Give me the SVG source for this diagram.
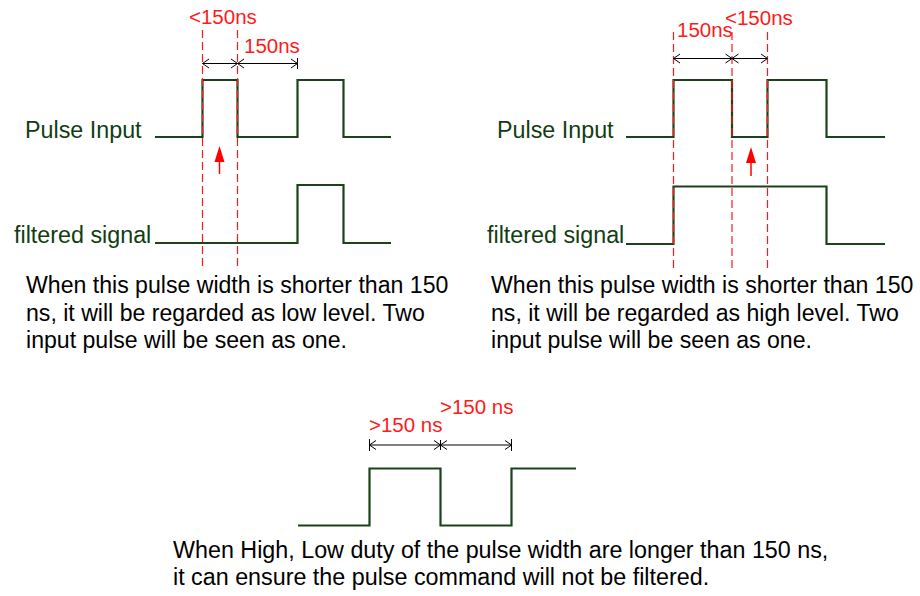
<svg xmlns="http://www.w3.org/2000/svg" width="920" height="596" viewBox="0 0 920 596">
<defs>
<style>
.wave{fill:none;stroke:#1b421b;stroke-width:2.2;stroke-linejoin:miter}
.dash{fill:none;stroke:#ff1a1a;stroke-width:1.2;stroke-dasharray:8,4}
.dim{fill:none;stroke:#000;stroke-width:1}
.lbl{font-family:"Liberation Sans",Arial,sans-serif;font-size:23.3px;fill:#123d12}
.red{font-family:"Liberation Sans",Arial,sans-serif;font-size:20.5px;fill:#ff1a1a}
.body{font-family:"Liberation Sans",Arial,sans-serif;font-size:23.1px;fill:#000}
.body2{font-family:"Liberation Sans",Arial,sans-serif;font-size:23.3px;fill:#000}
.rarrow{fill:#ff0000;stroke:none}
.rline{stroke:#ff0000;stroke-width:1.5}
</style>
</defs>
<rect width="920" height="596" fill="#fff"/>

<g id="left-diagram">
  <g id="left-pulse-input">
    <text class="lbl" x="25" y="138">Pulse Input</text>
    <polyline class="wave" points="155,137 202.5,137 202.5,80 237.5,80 237.5,137 297.5,137 297.5,80 343.5,80 343.5,137 391,137"/>
  </g>
  <g id="left-filtered">
    <text class="lbl" x="14" y="243">filtered signal</text>
    <polyline class="wave" points="155,243 297.5,243 297.5,185 343.5,185 343.5,243 391,243"/>
  </g>
  <g id="left-dashes">
    <line class="dash" x1="202.5" y1="30" x2="202.5" y2="268"/>
    <line class="dash" x1="237.5" y1="30" x2="237.5" y2="268"/>
  </g>
  <g id="left-labels">
    <text class="red" x="189" y="24">&lt;150ns</text>
    <text class="red" x="244" y="53">150ns</text>
  </g>
  <g id="left-arrow">
    <line class="rline" x1="219.5" y1="160" x2="219.5" y2="174"/>
    <polygon class="rarrow" points="219.5,146 214.5,162 224.5,162"/>
  </g>
  <g id="left-text">
    <text class="body" x="26" y="293">When this pulse width is shorter than 150</text>
    <text class="body" x="26" y="320.5">ns, it will be regarded as low level. Two</text>
    <text class="body" x="26" y="348">input pulse will be seen as one.</text>
  </g>
</g>

<g id="right-diagram">
  <g id="right-pulse-input">
    <text class="lbl" x="497" y="138">Pulse Input</text>
    <polyline class="wave" points="626,137 673.5,137 673.5,80 732,80 732,137 767.5,137 767.5,80 826.5,80 826.5,137 885,137"/>
  </g>
  <g id="right-filtered">
    <text class="lbl" x="487" y="243">filtered signal</text>
    <polyline class="wave" points="626,244 673.5,244 673.5,186.5 826.5,186.5 826.5,244 885,244"/>
  </g>
  <g id="right-dashes">
    <line class="dash" x1="673.5" y1="32" x2="673.5" y2="268"/>
    <line class="dash" x1="732" y1="32" x2="732" y2="268"/>
    <line class="dash" x1="767.5" y1="32" x2="767.5" y2="268"/>
  </g>
  <g id="right-labels">
    <text class="red" x="677" y="37">150ns</text>
    <text class="red" x="725" y="25">&lt;150ns</text>
  </g>
  <g id="right-arrow">
    <line class="rline" x1="751" y1="161" x2="751" y2="176"/>
    <polygon class="rarrow" points="751,147 746,163 756,163"/>
  </g>
  <g id="right-text">
    <text class="body" x="491" y="293">When this pulse width is shorter than 150</text>
    <text class="body" x="491" y="320.5">ns, it will be regarded as high level. Two</text>
    <text class="body" x="491" y="348">input pulse will be seen as one.</text>
  </g>
</g>

<g id="bottom-diagram">
  <g id="bottom-pulse">
    <polyline class="wave" points="298,525.5 369.5,525.5 369.5,468.5 440.5,468.5 440.5,525.5 511.5,525.5 511.5,468.5 576,468.5"/>
  </g>
  <g id="bottom-labels">
    <text class="red" x="369" y="432">&gt;150 ns</text>
    <text class="red" x="440" y="414">&gt;150 ns</text>
  </g>
  <g id="bottom-text">
    <text class="body2" x="173" y="558">When High, Low duty of the pulse width are longer than 150 ns,</text>
    <text class="body2" x="173" y="585">it can ensure the pulse command will not be filtered.</text>
  </g>
</g>

<g id="connectors">
  <line class="dim" x1="202.5" y1="63.5" x2="297.5" y2="63.5"/>
  <polyline class="dim" points="209,59 202.5,63.5 209,68"/>
  <polyline class="dim" points="231,59 237.5,63.5 231,68"/>
  <polyline class="dim" points="244,59 237.5,63.5 244,68"/>
  <polyline class="dim" points="291,59 297.5,63.5 291,68"/>
  <line class="dim" x1="297.5" y1="58" x2="297.5" y2="69"/>
  <line class="dim" x1="673.5" y1="58.5" x2="767.5" y2="58.5"/>
  <polyline class="dim" points="680,54 673.5,58.5 680,63"/>
  <polyline class="dim" points="725.5,54 732,58.5 725.5,63"/>
  <polyline class="dim" points="738.5,54 732,58.5 738.5,63"/>
  <polyline class="dim" points="761,54 767.5,58.5 761,63"/>
  <line class="dim" x1="369.5" y1="445" x2="511.5" y2="445"/>
  <line class="dim" x1="369.5" y1="439" x2="369.5" y2="451"/>
  <line class="dim" x1="511.5" y1="439" x2="511.5" y2="451"/>
  <line class="dim" x1="440.5" y1="440" x2="440.5" y2="450"/>
  <polyline class="dim" points="376,440.5 369.5,445 376,449.5"/>
  <polyline class="dim" points="434,440.5 440.5,445 434,449.5"/>
  <polyline class="dim" points="447,440.5 440.5,445 447,449.5"/>
  <polyline class="dim" points="505,440.5 511.5,445 505,449.5"/>
</g>
</svg>
